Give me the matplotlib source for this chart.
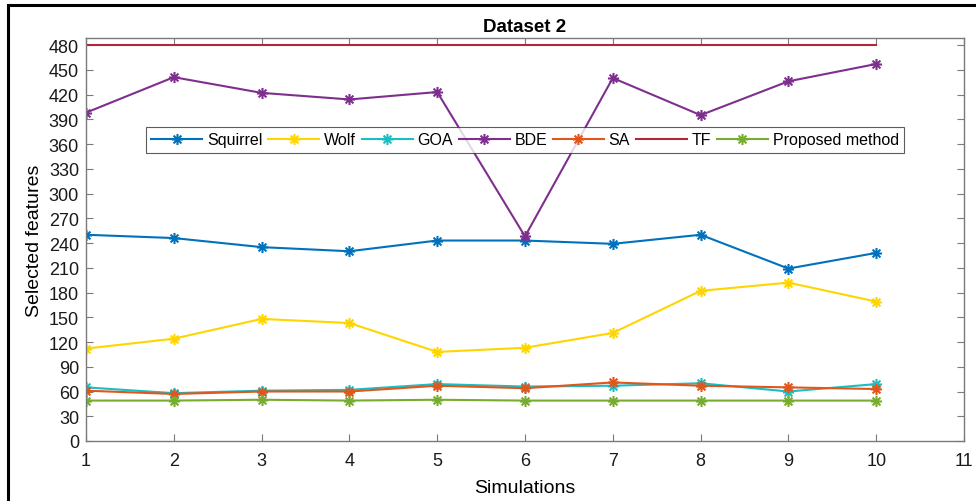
import matplotlib
matplotlib.use("Agg")
import numpy as np
import matplotlib.pyplot as plt
from matplotlib.patches import Rectangle
from matplotlib.path import Path

plt.rcParams['font.family'] = ['Liberation Sans', 'DejaVu Sans']

simulations = [1, 2, 3, 4, 5, 6, 7, 8, 9, 10]
squirrel = [250, 246, 235, 230, 243, 243, 239, 250, 209, 228]
wolf = [112, 124, 148, 143, 108, 113, 131, 182, 192, 169]
goa = [65, 58, 61, 62, 69, 66, 67, 70, 60, 69]
bde = [398, 441, 422, 414, 423, 248, 440, 395, 436, 457]
sa = [61, 57, 60, 60, 67, 64, 71, 67, 65, 63]
tf = [480, 480, 480, 480, 480, 480, 480, 480, 480, 480]
proposed = [49, 49, 50, 49, 50, 49, 49, 49, 49, 49]

xticks = list(range(1, 12))
yticks = list(range(0, 481, 30))

# MATLAB-style asterisk marker (8 spokes)
verts, codes = [], []
for ang in (0, 45, 90, 135):
    a = np.deg2rad(ang)
    verts += [(-np.cos(a), -np.sin(a)), (np.cos(a), np.sin(a))]
    codes += [Path.MOVETO, Path.LINETO]
asterisk = Path(verts, codes)

fig = plt.figure(figsize=(9.76, 5.02), dpi=100)
ax = fig.add_axes([86/976, 1 - 442/502, (964-86)/976, (442-39)/502])

series = [
    ("Squirrel", squirrel, "#0072BD", asterisk),
    ("Wolf", wolf, "#FFD500", asterisk),
    ("GOA", goa, "#1ABFC4", asterisk),
    ("BDE", bde, "#7E2F8E", asterisk),
    ("SA", sa, "#E0561B", asterisk),
    ("TF", tf, "#B2263C", None),
    ("Proposed method", proposed, "#77AC30", asterisk),
]
for name, vals, col, mk in series:
    ax.plot(simulations, vals, color=col, lw=1.5, marker=mk, markersize=8,
            markeredgewidth=1.5, label=name)

ax.set_xlim(1, 11)
ax.set_ylim(0, 488.5)
ax.set_xticks(xticks)
ax.set_yticks(yticks)
ax.tick_params(direction='in', top=True, right=True, labelsize=13,
               length=5, width=0.8, colors='#7a7a7a', labelcolor='#1a1a1a')
ax.tick_params(axis='x', pad=8)
ax.tick_params(axis='y', pad=5)
for s in ax.spines.values():
    s.set_color('#7a7a7a')
    s.set_linewidth(1.0)

ax.set_title("Dataset 2", fontsize=13.5, fontweight='bold', pad=5)
ax.set_xlabel("Simulations", fontsize=14, labelpad=7)
ax.set_ylabel("Selected features", fontsize=14, labelpad=4)

leg = ax.legend(loc='center', bbox_to_anchor=(0.5, 0.747), ncol=7, fontsize=11.5,
                frameon=True, fancybox=False, edgecolor='#333333', handlelength=3.2,
                columnspacing=0.35, handletextpad=0.3, borderpad=0.35, borderaxespad=0)
leg.get_frame().set_linewidth(0.8)

fig.patches.append(Rectangle((8/976, -0.2), 1.5, 1.2 - 5.5/502, transform=fig.transFigure,
                             fill=False, edgecolor='black', lw=2.2, zorder=10))

fig.savefig("out.png", dpi=100)
